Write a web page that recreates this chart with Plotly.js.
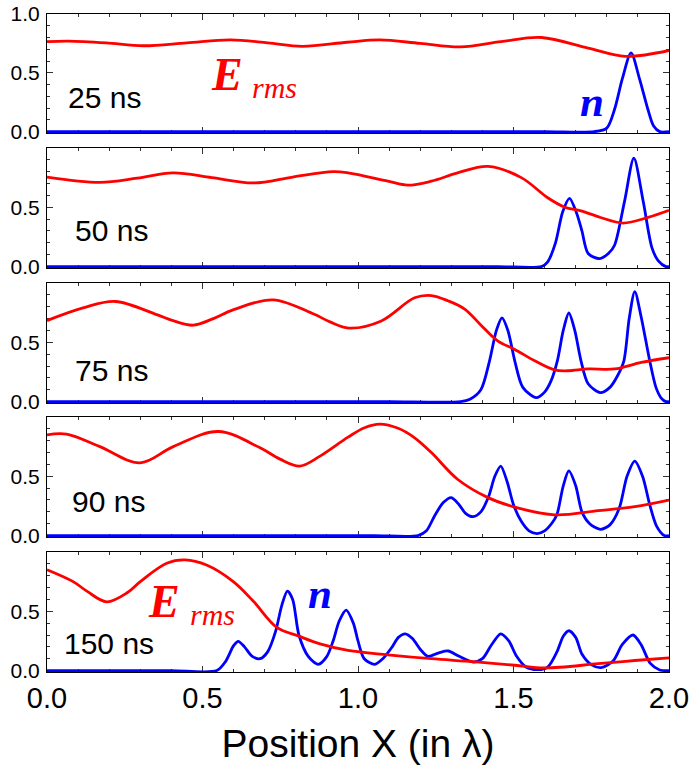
<!DOCTYPE html>
<html>
<head>
<meta charset="utf-8">
<script src="https://cdn.plot.ly/plotly-3.0.1.min.js"></script>
<style>html,body{margin:0;padding:0;background:#fff;}#chart{width:696px;height:769px;}</style>
</head>
<body>
<div id="chart"></div>
<script>
// ---------- DATA ----------
var panelLabels = ["25 ns", "50 ns", "75 ns", "90 ns", "150 ns"];
var xTickVals = [0, 0.5, 1.0, 1.5, 2.0];
var xTickText = ["0.0", "0.5", "1.0", "1.5", "2.0"];
var yTickVals = [0, 0.5, 1.0];
var yTickText = ["0.0", "0.5", "1.0"];

// 25 ns
var xE25 = [0, 0.07, 0.19, 0.31, 0.45, 0.59, 0.71, 0.82, 0.965, 1.07, 1.2, 1.33, 1.46, 1.59, 1.74, 1.86, 2.0];
var yE25 = [0.765, 0.77, 0.755, 0.73, 0.755, 0.78, 0.755, 0.725, 0.76, 0.78, 0.75, 0.72, 0.765, 0.80, 0.71, 0.64, 0.69];
var xN25 = [0, 0.4, 0.8, 1.2, 1.6, 1.76, 1.80, 1.825, 1.85, 1.878, 1.905, 1.932, 1.95, 1.97, 2.0];
var yN25 = [0, 0, 0, 0, 0, 0, 0.03, 0.19, 0.45, 0.67, 0.45, 0.19, 0.05, 0, 0];

// 50 ns
var xE50 = [0, 0.17, 0.29, 0.405, 0.53, 0.663, 0.79, 0.92, 0.968, 1.096, 1.16, 1.236, 1.32, 1.418, 1.525, 1.61, 1.665, 1.717, 1.78, 1.852, 1.932, 2.0];
var yE50 = [0.755, 0.71, 0.745, 0.79, 0.75, 0.705, 0.755, 0.80, 0.79, 0.72, 0.686, 0.72, 0.79, 0.845, 0.75, 0.58, 0.50, 0.47, 0.414, 0.367, 0.414, 0.475];
var xN50 = [0, 0.4, 0.8, 1.2, 1.45, 1.59, 1.61, 1.635, 1.658, 1.68, 1.703, 1.72, 1.74, 1.777, 1.805, 1.825, 1.857, 1.887, 1.917, 1.945, 1.965, 1.99, 2.0];
var yN50 = [0, 0, 0, 0, 0, 0, 0.04, 0.2, 0.46, 0.575, 0.45, 0.3, 0.11, 0.067, 0.11, 0.18, 0.55, 0.914, 0.55, 0.16, 0.05, 0.0, 0];

// 75 ns
var xE75 = [0, 0.116, 0.22, 0.353, 0.405, 0.47, 0.535, 0.6, 0.727, 0.856, 0.91, 0.97, 1.075, 1.182, 1.236, 1.289, 1.343, 1.397, 1.45, 1.504, 1.568, 1.632, 1.675, 1.74, 1.825, 1.911, 2.0];
var yE75 = [0.683, 0.79, 0.844, 0.733, 0.682, 0.644, 0.70, 0.775, 0.858, 0.74, 0.672, 0.62, 0.68, 0.875, 0.894, 0.85, 0.78, 0.64, 0.51, 0.44, 0.344, 0.267, 0.26, 0.275, 0.275, 0.33, 0.37];
var xN75 = [0, 0.4, 0.8, 1.1, 1.33, 1.36, 1.395, 1.423, 1.445, 1.463, 1.482, 1.504, 1.53, 1.573, 1.60, 1.62, 1.641, 1.66, 1.678, 1.697, 1.717, 1.74, 1.779, 1.81, 1.835, 1.855, 1.872, 1.89, 1.91, 1.938, 1.958, 1.975, 1.99, 2.0];
var yN75 = [0, 0, 0, 0, 0, 0.02, 0.1, 0.344, 0.6, 0.706, 0.6, 0.344, 0.12, 0.033, 0.08, 0.17, 0.344, 0.6, 0.747, 0.6, 0.344, 0.15, 0.075, 0.12, 0.22, 0.344, 0.7, 0.928, 0.72, 0.344, 0.12, 0.03, 0, 0];

// 90 ns
var xE90 = [0, 0.063, 0.17, 0.299, 0.406, 0.551, 0.685, 0.749, 0.813, 0.878, 0.968, 1.021, 1.07, 1.129, 1.182, 1.236, 1.32, 1.418, 1.504, 1.632, 1.772, 1.89, 2.0];
var yE90 = [0.85, 0.856, 0.75, 0.614, 0.75, 0.878, 0.74, 0.645, 0.586, 0.67, 0.83, 0.91, 0.94, 0.905, 0.825, 0.70, 0.475, 0.32, 0.24, 0.175, 0.21, 0.245, 0.30];
var xN90 = [0, 0.4, 0.8, 1.05, 1.193, 1.22, 1.247, 1.275, 1.30, 1.325, 1.345, 1.37, 1.395, 1.42, 1.44, 1.459, 1.48, 1.50, 1.525, 1.55, 1.576, 1.60, 1.625, 1.64, 1.66, 1.678, 1.70, 1.72, 1.745, 1.779, 1.81, 1.84, 1.865, 1.89, 1.915, 1.938, 1.96, 1.985, 2.0];
var yN90 = [0, 0, 0, 0, 0, 0.04, 0.17, 0.28, 0.32, 0.26, 0.19, 0.16, 0.2, 0.33, 0.5, 0.586, 0.45, 0.26, 0.12, 0.04, 0.017, 0.04, 0.11, 0.18, 0.42, 0.545, 0.42, 0.2, 0.1, 0.053, 0.09, 0.23, 0.5, 0.628, 0.5, 0.26, 0.08, 0, 0];

// 150 ns
var xE150 = [0, 0.084, 0.128, 0.192, 0.26, 0.3, 0.385, 0.444, 0.513, 0.599, 0.663, 0.739, 0.81, 0.878, 0.968, 1.096, 1.236, 1.37, 1.504, 1.6, 1.772, 1.89, 2.0];
var yE150 = [0.85, 0.75, 0.67, 0.58, 0.66, 0.75, 0.905, 0.933, 0.89, 0.75, 0.586, 0.364, 0.29, 0.225, 0.17, 0.133, 0.10, 0.075, 0.045, 0.022, 0.058, 0.085, 0.108];
var xN150 = [0, 0.2, 0.4, 0.546, 0.575, 0.6, 0.615, 0.635, 0.66, 0.685, 0.71, 0.735, 0.755, 0.773, 0.79, 0.81, 0.84, 0.872, 0.90, 0.92, 0.94, 0.962, 0.985, 1.0, 1.02, 1.054, 1.08, 1.11, 1.13, 1.152, 1.175, 1.20, 1.225, 1.26, 1.29, 1.325, 1.37, 1.40, 1.43, 1.459, 1.485, 1.51, 1.54, 1.579, 1.61, 1.64, 1.66, 1.678, 1.70, 1.72, 1.75, 1.782, 1.82, 1.85, 1.884, 1.91, 1.94, 1.97, 2.0];
var yN150 = [0, 0, 0, 0, 0.08, 0.21, 0.247, 0.2, 0.12, 0.10, 0.16, 0.33, 0.55, 0.67, 0.6, 0.3, 0.12, 0.053, 0.12, 0.25, 0.42, 0.51, 0.4, 0.25, 0.1, 0.053, 0.1, 0.2, 0.28, 0.31, 0.27, 0.18, 0.12, 0.15, 0.165, 0.12, 0.072, 0.1, 0.22, 0.31, 0.25, 0.12, 0.03, 0.008, 0.03, 0.16, 0.29, 0.336, 0.28, 0.14, 0.05, 0.025, 0.08, 0.22, 0.30, 0.22, 0.06, 0.005, 0];

var eX = [xE25, xE50, xE75, xE90, xE150];
var eY = [yE25, yE50, yE75, yE90, yE150];
var nX = [xN25, xN50, xN75, xN90, xN150];
var nY = [yN25, yN50, yN75, yN90, yN150];

// ---------- LAYOUT ----------
var domains = [[0.8191, 1.0], [0.6140, 0.7964], [0.4088, 0.5912], [0.2052, 0.3875], [0, 0.1824]];
var labelPos = [[0.062, 0.29], [0.085, 0.30], [0.085, 0.26], [0.074, 0.29], [0.048, 0.225]];

var traces = [];
var layout = {
  width: 696, height: 769,
  margin: {l: 47, r: 27, t: 14, b: 97},
  paper_bgcolor: '#fff', plot_bgcolor: '#fff',
  showlegend: false,
  font: {family: 'Liberation Sans, Arial, sans-serif', color: '#000'},
  annotations: []
};

for (var i = 0; i < 5; i++) {
  var sfx = i === 0 ? '' : String(i + 1);
  var xa = 'x' + sfx, ya = 'y' + sfx;
  traces.push({x: nX[i], y: nY[i], xaxis: xa, yaxis: ya, mode: 'lines', type: 'scatter',
    line: {color: '#0000ff', width: 2.8, shape: 'spline', smoothing: 0.8}, hoverinfo: 'skip'});
  traces.push({x: eX[i], y: eY[i], xaxis: xa, yaxis: ya, mode: 'lines', type: 'scatter',
    line: {color: '#ff0000', width: 2.8, shape: 'spline', smoothing: 1.0}, hoverinfo: 'skip'});

  var last = (i === 4);
  layout['xaxis' + sfx] = {
    domain: [0, 1], anchor: ya, range: [0, 2.0],
    showline: true, linecolor: '#000', linewidth: 1, mirror: 'ticks',
    ticks: 'inside', ticklen: 6, tickcolor: '#333', tickwidth: 1,
    tickvals: xTickVals, ticktext: xTickText, showticklabels: last,
    minor: {dtick: 0.1, ticks: 'inside', ticklen: 3, tickcolor: '#333', showgrid: false},
    showgrid: false, zeroline: false, layer: 'below traces',
    tickfont: {size: 29, family: 'Liberation Sans, Arial, sans-serif', color: '#000'},
    title: last ? {text: 'Position X (in λ)', font: {size: 39, family: 'Liberation Sans, Arial, sans-serif', color: '#000'}, standoff: 16} : {text: ''},
    automargin: false, fixedrange: true
  };
  if (!last) layout['xaxis' + sfx].matches = 'x5';
  layout['yaxis' + sfx] = {
    domain: domains[i], anchor: xa, range: [-0.012, 1.0],
    showline: true, linecolor: '#000', linewidth: 1, mirror: 'ticks',
    ticks: 'inside', ticklen: 6, tickcolor: '#333', tickwidth: 1,
    tickvals: i === 0 ? yTickVals : yTickVals.slice(0, 2),
    ticktext: i === 0 ? yTickText : yTickText.slice(0, 2),
    minor: {dtick: 0.1, ticks: 'inside', ticklen: 3, tickcolor: '#333', showgrid: false},
    showgrid: false, zeroline: false, layer: 'below traces',
    tickfont: {size: 21, family: 'Liberation Sans, Arial, sans-serif', color: '#000'},
    ticklabelstandoff: 2,
    automargin: false, fixedrange: true
  };
  layout.annotations.push({xref: xa, yref: ya, x: labelPos[i][0], y: labelPos[i][1],
    xanchor: 'left', yanchor: 'middle', showarrow: false, text: panelLabels[i],
    font: {size: 30, family: 'Liberation Sans, Arial, sans-serif', color: '#000'}});
}

var serif = 'Liberation Serif, Times New Roman, serif';
// E_rms and n labels (panel 1 and panel 5)
layout.annotations.push(
  {xref: 'x', yref: 'y', x: 0.522, y: 0.484, xanchor: 'left', yanchor: 'middle', showarrow: false,
   text: '<b><i>E</i></b>', font: {size: 46, family: serif, color: '#ff0000'}},
  {xref: 'x', yref: 'y', x: 0.653, y: 0.379, xanchor: 'left', yanchor: 'middle', showarrow: false,
   text: '<i>rms</i>', font: {size: 30, family: serif, color: '#ff0000'}},
  {xref: 'x', yref: 'y', x: 1.708, y: 0.255, xanchor: 'left', yanchor: 'middle', showarrow: false,
   text: '<b><i>n</i></b>', font: {size: 43, family: serif, color: '#0000ff'}},
  {xref: 'x5', yref: 'y5', x: 0.318, y: 0.58, xanchor: 'left', yanchor: 'middle', showarrow: false,
   text: '<b><i>E</i></b>', font: {size: 46, family: serif, color: '#ff0000'}},
  {xref: 'x5', yref: 'y5', x: 0.453, y: 0.476, xanchor: 'left', yanchor: 'middle', showarrow: false,
   text: '<i>rms</i>', font: {size: 30, family: serif, color: '#ff0000'}},
  {xref: 'x5', yref: 'y5', x: 0.832, y: 0.653, xanchor: 'left', yanchor: 'middle', showarrow: false,
   text: '<b><i>n</i></b>', font: {size: 43, family: serif, color: '#0000ff'}}
);

Plotly.newPlot('chart', traces, layout, {displayModeBar: false, staticPlot: true});
</script>
</body>
</html>
